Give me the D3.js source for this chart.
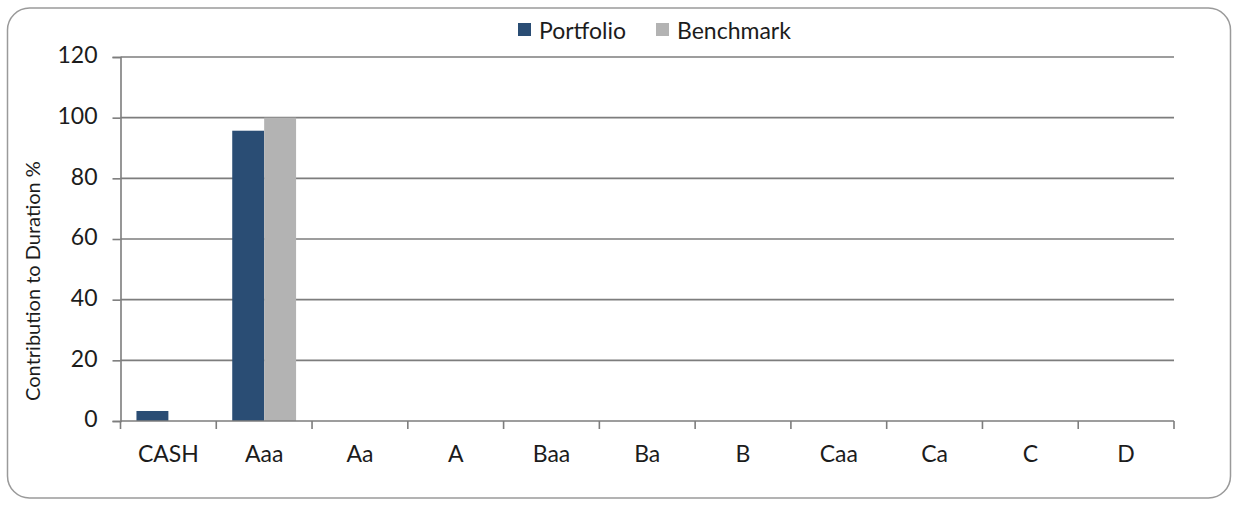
<!DOCTYPE html>
<html>
<head>
<meta charset="utf-8">
<script src="https://cdn.jsdelivr.net/npm/d3@7"></script>
<style>
  html, body { margin: 0; padding: 0; background: #fff; }
  svg { display: block; }
  text { font-family: Lato, "Open Sans", sans-serif; fill: #1c1c1c; }
</style>
</head>
<body>
<svg id="chart" width="1235" height="505"></svg>
<script>
// Contribution to duration by rating bucket
const categories = ["CASH", "Aaa", "Aa", "A", "Baa", "Ba", "B", "Caa", "Ca", "C", "D"];
const seriesNames = ["Portfolio", "Benchmark"];
const portfolio = [3.3, 95.7, 0, 0, 0, 0, 0, 0, 0, 0, 0];
const benchmark = [0, 100, 0, 0, 0, 0, 0, 0, 0, 0, 0];
const yTicks = [0, 20, 40, 60, 80, 100, 120];
const colors = { Portfolio: "#2a4d74", Benchmark: "#b3b3b3" };
const lineColor = "#7d7d7d";

const svg = d3.select("#chart");

// outer frame
svg.append("rect")
  .attr("x", 7.5).attr("y", 8).attr("width", 1223).attr("height", 490)
  .attr("rx", 22).attr("ry", 22)
  .attr("fill", "#fff").attr("stroke", "#9a9a9a").attr("stroke-width", 1.5);

const plotLeft = 120.5, plotRight = 1174, plotTop = 57, plotBottom = 421;

const x0 = d3.scaleBand().domain(categories).range([plotLeft, plotRight]).padding(0);
const bw = x0.bandwidth();
const x1 = d3.scaleBand().domain(seriesNames).range([bw / 6, bw * 5 / 6]).padding(0);
const y = d3.scaleLinear().domain([0, 120]).range([plotBottom, plotTop]);

// horizontal gridlines
svg.append("g").selectAll("line")
  .data(yTicks.filter(d => d > 0))
  .join("line")
  .attr("x1", plotLeft).attr("x2", plotRight)
  .attr("y1", d => y(d)).attr("y2", d => y(d))
  .attr("stroke", lineColor).attr("stroke-width", 1.6);

// bars
const rows = categories.map((c, i) => ({ c, vals: [
  { s: "Portfolio", v: portfolio[i] },
  { s: "Benchmark", v: benchmark[i] }
]}));
svg.append("g").selectAll("g")
  .data(rows)
  .join("g")
  .attr("transform", d => `translate(${x0(d.c)},0)`)
  .selectAll("rect")
  .data(d => d.vals.filter(e => e.v > 0))
  .join("rect")
  .attr("x", d => x1(d.s))
  .attr("width", x1.bandwidth())
  .attr("y", d => y(d.v))
  .attr("height", d => y(0) - y(d.v))
  .attr("fill", d => colors[d.s]);

// y axis
const yAxis = svg.append("g")
  .attr("transform", `translate(${plotLeft},0)`)
  .call(d3.axisLeft(y).tickValues(yTicks).tickSize(8).tickPadding(15));
yAxis.select(".domain").attr("stroke", lineColor).attr("stroke-width", 1.6);
yAxis.selectAll(".tick line").attr("stroke", lineColor).attr("stroke-width", 1.6);
yAxis.selectAll(".tick text")
  .attr("font-size", 23).attr("font-family", "Lato, sans-serif").attr("fill", "#1c1c1c")
  .attr("dy", "0.25em");

// x axis baseline and category boundary ticks
const xg = svg.append("g");
xg.append("line")
  .attr("x1", plotLeft).attr("x2", plotRight)
  .attr("y1", plotBottom).attr("y2", plotBottom)
  .attr("stroke", lineColor).attr("stroke-width", 1.6);
const bounds = categories.map(c => x0(c)).concat([plotRight]);
xg.selectAll("line.b")
  .data(bounds)
  .join("line")
  .attr("class", "b")
  .attr("x1", d => d).attr("x2", d => d)
  .attr("y1", plotBottom).attr("y2", plotBottom + 8)
  .attr("stroke", lineColor).attr("stroke-width", 1.6);
const xAxis = svg.append("g")
  .attr("transform", `translate(0,${plotBottom})`)
  .call(d3.axisBottom(x0).tickSize(0).tickPadding(25));
xAxis.select(".domain").remove();
xAxis.selectAll(".tick text").attr("font-size", 23).attr("font-family", "Lato, sans-serif").attr("fill", "#1c1c1c");

// y axis title
svg.append("text")
  .attr("transform", `translate(40,281) rotate(-90)`)
  .attr("text-anchor", "middle")
  .attr("font-size", 20)
  .text("Contribution to Duration %");

// legend
const legend = svg.append("g");
const legendItems = [
  { s: "Portfolio", x: 518 },
  { s: "Benchmark", x: 656 }
];
legendItems.forEach(it => {
  legend.append("rect")
    .attr("x", it.x).attr("y", 23).attr("width", 13).attr("height", 13)
    .attr("fill", colors[it.s]);
  legend.append("text")
    .attr("x", it.x + 21).attr("y", 30)
    .attr("dominant-baseline", "central")
    .attr("font-size", 23)
    .text(it.s);
});
</script>
</body>
</html>
